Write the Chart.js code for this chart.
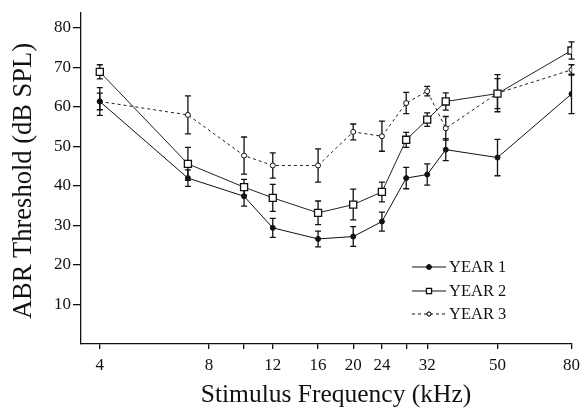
<!DOCTYPE html>
<html>
<head>
<meta charset="utf-8">
<script src="https://cdn.jsdelivr.net/npm/chart.js@4"></script>
<style>
  body { margin: 0; background: #fff; }
  canvas { display: block; }
</style>
</head>
<body>
<canvas id="abrChart" width="586" height="414"></canvas>
<script>
// stimulus frequencies (kHz)
const frequencies = [4, 7, 10, 12, 16, 20, 24, 28, 32, 36, 50, 80];

// mean thresholds (dB SPL) and error bar half-lengths
const year1 = [61.4, 42.0, 37.4, 29.4, 26.6, 27.2, 31.0, 42.0, 42.9, 49.2, 47.2, 63.3];
const year1Err = [2.1, 2.1, 2.5, 2.4, 2.0, 2.5, 2.4, 2.7, 2.7, 2.8, 4.6, 5.0];
const year2 = [68.9, 45.6, 39.7, 37.0, 33.2, 35.3, 38.5, 51.7, 56.8, 61.4, 63.4, 74.3];
const year2Err = [1.8, 4.2, 2.0, 3.4, 3.0, 3.9, 2.5, 1.9, 1.7, 2.2, 3.8, 2.2];
const year3 = [61.4, 58.0, 47.7, 45.2, 45.2, 53.7, 52.6, 61.0, 64.0, 54.6, 63.5, 69.4];
const year3Err = [3.5, 4.8, 4.7, 3.2, 4.2, 2.0, 3.8, 2.7, 1.2, 3.0, 4.7, 1.3];

const seriesNames = ['YEAR 1', 'YEAR 2', 'YEAR 3'];

// axis ticks
const xTicks = [4, 8, 10, 12, 16, 20, 24, 28, 32, 50, 80];
const xTickLabels = ['4', '8', '', '12', '16', '20', '24', '', '32', '50', '80'];
const yTicks = [10, 20, 30, 40, 50, 60, 70, 80];

const serif = "'Liberation Serif', 'Times New Roman', serif";
const ink = '#111';

function toPoints(values) {
    return frequencies.map((f, i) => ({ x: f, y: values[i] }));
}

const errors = [year1Err, year2Err, year3Err];

const errorBars = {
    id: 'errorBars',
    beforeDatasetsDraw(chart) {
        const { ctx, scales: { x, y } } = chart;
        ctx.save();
        ctx.strokeStyle = ink;
        ctx.lineWidth = 1.3;
        chart.data.datasets.forEach((ds, di) => {
            ds.data.forEach((p, i) => {
                const e = errors[di][i];
                const px = x.getPixelForValue(p.x);
                const top = y.getPixelForValue(p.y + e);
                const bot = y.getPixelForValue(p.y - e);
                ctx.beginPath();
                ctx.moveTo(px, top);
                ctx.lineTo(px, bot);
                ctx.moveTo(px - 3, top);
                ctx.lineTo(px + 3, top);
                ctx.moveTo(px - 3, bot);
                ctx.lineTo(px + 3, bot);
                ctx.stroke();
            });
        });
        ctx.restore();
    }
};

// smaller markers in the legend, like the original key
const legendRadius = [2.3, 3.6, 2];

const extras = {
    id: 'extras',
    afterDraw(chart) {
        const { ctx } = chart;
        ctx.save();
        ctx.fillStyle = ink;

        // axis titles
        ctx.textAlign = 'center';
        ctx.textBaseline = 'middle';
        ctx.font = `25.5px ${serif}`;
        ctx.fillText('Stimulus Frequency (kHz)', 336, 395);
        ctx.save();
        ctx.translate(24, 181);
        ctx.rotate(-Math.PI / 2);
        ctx.font = `26.5px ${serif}`;
        ctx.fillText('ABR Threshold (dB SPL)', 0, 0);
        ctx.restore();

        // legend
        ctx.font = `16.5px ${serif}`;
        ctx.textAlign = 'left';
        const rows = [267, 291, 314];
        chart.data.datasets.forEach((ds, i) => {
            const ly = rows[i];
            ctx.strokeStyle = ink;
            ctx.lineWidth = 1;
            ctx.setLineDash(ds.borderDash || []);
            ctx.beginPath();
            ctx.moveTo(412, ly);
            ctx.lineTo(446, ly);
            ctx.stroke();
            ctx.setLineDash([]);
            Chart.helpers.drawPoint(ctx, {
                pointStyle: ds.pointStyle,
                radius: legendRadius[i],
                borderWidth: ds.pointBorderWidth
            }, 429, ly);
            ctx.fillStyle = ds.pointBackgroundColor;
            ctx.fill();
            ctx.strokeStyle = ink;
            ctx.lineWidth = ds.pointBorderWidth;
            ctx.stroke();
            ctx.fillStyle = ink;
            ctx.fillText(seriesNames[i], 449, ly + 1);
        });
        ctx.restore();
    }
};

new Chart(document.getElementById('abrChart').getContext('2d'), {
    type: 'line',
    data: {
        datasets: [
            {
                label: seriesNames[0],
                data: toPoints(year1),
                borderColor: ink,
                borderWidth: 1,
                pointStyle: 'circle',
                pointRadius: 2.5,
                pointBorderWidth: 1,
                pointBackgroundColor: ink,
                pointBorderColor: ink
            },
            {
                label: seriesNames[1],
                data: toPoints(year2),
                borderColor: '#222',
                borderWidth: 1,
                pointStyle: 'rect',
                pointRadius: 5,
                pointBorderWidth: 1.3,
                pointBackgroundColor: '#fff',
                pointBorderColor: ink
            },
            {
                label: seriesNames[2],
                data: toPoints(year3),
                borderColor: '#222',
                borderWidth: 1,
                borderDash: [3, 3],
                pointStyle: 'circle',
                pointRadius: 2.5,
                pointBorderWidth: 1,
                pointBackgroundColor: '#fff',
                pointBorderColor: ink
            }
        ]
    },
    options: {
        responsive: false,
        animation: false,
        layout: { padding: { top: 12, right: 8, left: 0, bottom: 0 } },
        plugins: {
            legend: { display: false },
            tooltip: { enabled: false }
        },
        scales: {
            x: {
                type: 'logarithmic',
                min: 3.55,
                max: 80,
                border: { display: true, color: ink, width: 1.3 },
                grid: { drawOnChartArea: false, drawTicks: true, tickLength: 5, color: ink, lineWidth: 1.3 },
                afterBuildTicks: (scale) => {
                    scale.ticks = xTicks.map(v => ({ value: v }));
                },
                afterFit: (scale) => { scale.height = 70; },
                ticks: {
                    autoSkip: false,
                    maxRotation: 0,
                    padding: 6,
                    color: ink,
                    font: { family: serif, size: 17 },
                    callback: (value, index) => xTickLabels[index]
                }
            },
            y: {
                min: 0,
                max: 84,
                border: { display: true, color: ink, width: 1.3 },
                grid: { drawOnChartArea: false, drawTicks: true, tickLength: 8, color: ink, lineWidth: 1.3 },
                afterBuildTicks: (scale) => {
                    scale.ticks = yTicks.map(v => ({ value: v }));
                },
                afterFit: (scale) => { scale.width = 81; },
                ticks: {
                    padding: 2,
                    color: ink,
                    font: { family: serif, size: 17 }
                }
            }
        }
    },
    plugins: [errorBars, extras]
});
</script>
</body>
</html>
